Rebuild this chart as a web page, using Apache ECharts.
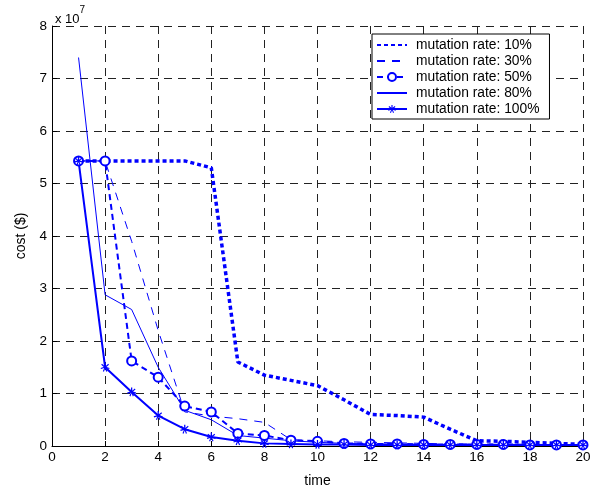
<!DOCTYPE html>
<html>
<head>
<meta charset="utf-8">
<script src="https://cdn.jsdelivr.net/npm/echarts@6/dist/echarts.min.js"></script>
<style>
  html, body { margin: 0; padding: 0; background: #fff; }
  #chart { width: 596px; height: 491px; }
</style>
</head>
<body>
<div id="chart"></div>
<script>
// time steps
var times = [1, 2, 3, 4, 5, 6, 7, 8, 9, 10, 11, 12, 13, 14, 15, 16, 17, 18, 19, 20];

// cost in units of 10^7 $
var rate10 = [5.43, 5.43, 5.43, 5.43, 5.43, 5.3, 1.6, 1.35, 1.25, 1.15, 0.88, 0.6, 0.58, 0.55, 0.32, 0.1, 0.09, 0.07, 0.05, 0.03];
var rate30 = [5.43, 5.43, 3.9, 2.2, 0.65, 0.57, 0.52, 0.45, 0.12, 0.1, 0.08, 0.07, 0.06, 0.05, 0.04, 0.04, 0.03, 0.03, 0.03, 0.02];
var rate50 = [5.43, 5.43, 1.62, 1.31, 0.76, 0.65, 0.24, 0.2, 0.11, 0.09, 0.05, 0.04, 0.04, 0.03, 0.03, 0.03, 0.03, 0.02, 0.02, 0.02];
var rate80 = [7.4, 2.88, 2.6, 1.5, 0.68, 0.5, 0.2, 0.15, 0.1, 0.07, 0.05, 0.04, 0.04, 0.03, 0.03, 0.03, 0.02, 0.02, 0.02, 0.02];
var rate100 = [5.43, 1.5, 1.03, 0.58, 0.32, 0.17, 0.1, 0.05, 0.04, 0.03, 0.03, 0.02, 0.02, 0.02, 0.02, 0.02, 0.02, 0.02, 0.02, 0.02];

var xTicks = [0, 2, 4, 6, 8, 10, 12, 14, 16, 18, 20];
var yTicks = [0, 1, 2, 3, 4, 5, 6, 7, 8];

var blue = '#0000ff';
var font = 'Liberation Sans, Arial, sans-serif';
// asterisk-like marker (matlab '*')
var starPath = 'path://M-1.4,-10 L1.4,-10 L1.4,-3 L7,-7.6 L8.6,-5.4 L3,-1 L10,1.2 L9,3.8 L2,1.6 L5,8.4 L2.6,9.6 L0,2.8 L-2.6,9.6 L-5,8.4 L-2,1.6 L-9,3.8 L-10,1.2 L-3,-1 L-8.6,-5.4 L-7,-7.6 L-1.4,-3 Z';
var clear = 'rgba(0,0,0,0)';

function pairs(arr) {
  return arr.map(function (v, i) { return [times[i], v]; });
}

var chart = echarts.init(document.getElementById('chart'), null, { renderer: 'canvas' });

var gridLine = { show: true, lineStyle: { color: '#222', type: [8, 6], width: 1 } };

var option = {
  animation: false,
  backgroundColor: '#fff',
  textStyle: { fontFamily: font },
  grid: { left: 52, right: 13, top: 26, bottom: 45, outerBoundsMode: 'none', containLabel: false },
  xAxis: {
    type: 'value',
    min: 0, max: 20, interval: 2,
    name: 'time', nameLocation: 'middle', nameGap: 28,
    nameTextStyle: { fontSize: 14, color: '#000', fontFamily: font },
    axisLine: { onZero: false, lineStyle: { color: '#000', width: 1 } },
    axisTick: { inside: true, length: 5, lineStyle: { color: '#000' } },
    axisLabel: {
      color: '#000', fontSize: 13.5, fontFamily: font, margin: 4,
      formatter: function (v) { return xTicks.indexOf(v) >= 0 ? String(v) : ''; }
    },
    splitLine: gridLine
  },
  yAxis: {
    type: 'value',
    min: 0, max: 8, interval: 1,
    name: 'cost ($)', nameLocation: 'middle', nameGap: 21, nameRotate: 90,
    nameTextStyle: { fontSize: 14, color: '#000', fontFamily: font },
    axisLine: { show: true, onZero: false, lineStyle: { color: '#000', width: 1 } },
    axisTick: { show: true, inside: true, length: 5, lineStyle: { color: '#000' } },
    axisLabel: {
      color: '#000', fontSize: 13.5, fontFamily: font, margin: 5,
      formatter: function (v) { return yTicks.indexOf(v) >= 0 ? String(v) : ''; }
    },
    splitLine: gridLine
  },
  legend: {
    orient: 'vertical',
    left: 372, top: 34,
    padding: [4, 10, 3, 4],
    backgroundColor: '#fff',
    borderColor: '#000', borderWidth: 1,
    itemWidth: 30, itemHeight: 10, itemGap: 2,
    textStyle: { fontSize: 13.8, color: '#000', fontFamily: font, padding: [0, 0, 0, 4] },
    data: ['mutation rate: 10%', 'mutation rate: 30%', 'mutation rate: 50%', 'mutation rate: 80%', 'mutation rate: 100%']
  },
  graphic: [{
    type: 'text',
    left: 55, top: 5,
    style: {
      text: '{b|x 10}{s|7}',
      rich: {
        b: { fontSize: 13, fontFamily: font, fill: '#000', padding: [8, 0, 0, 0] },
        s: { fontSize: 10, fontFamily: font, fill: '#000', verticalAlign: 'top' }
      }
    }
  }],
  series: [
    {
      name: 'mutation rate: 10%', type: 'line', data: pairs(rate10),
      showSymbol: false, symbol: 'circle', symbolSize: 0,
      lineStyle: { color: blue, width: 3.5, type: [4, 3] },
      itemStyle: { color: clear, borderWidth: 0 }
    },
    {
      name: 'mutation rate: 30%', type: 'line', data: pairs(rate30),
      showSymbol: false, symbol: 'circle', symbolSize: 0,
      lineStyle: { color: blue, width: 1, type: [8, 7] },
      itemStyle: { color: clear, borderWidth: 0 }
    },
    {
      name: 'mutation rate: 50%', type: 'line', data: pairs(rate50),
      symbol: 'emptyCircle', symbolSize: 9,
      lineStyle: { color: blue, width: 2, type: [6, 4] },
      itemStyle: { color: blue, borderColor: blue, borderWidth: 1.5 }
    },
    {
      name: 'mutation rate: 80%', type: 'line', data: pairs(rate80),
      showSymbol: false, symbol: 'circle', symbolSize: 0,
      lineStyle: { color: blue, width: 1 },
      itemStyle: { color: clear, borderWidth: 0 }
    },
    {
      name: 'mutation rate: 100%', type: 'line', data: pairs(rate100),
      symbol: starPath, symbolSize: 9,
      lineStyle: { color: blue, width: 2 },
      itemStyle: { color: blue }
    }
  ]
};

chart.setOption(option);
</script>
</body>
</html>
